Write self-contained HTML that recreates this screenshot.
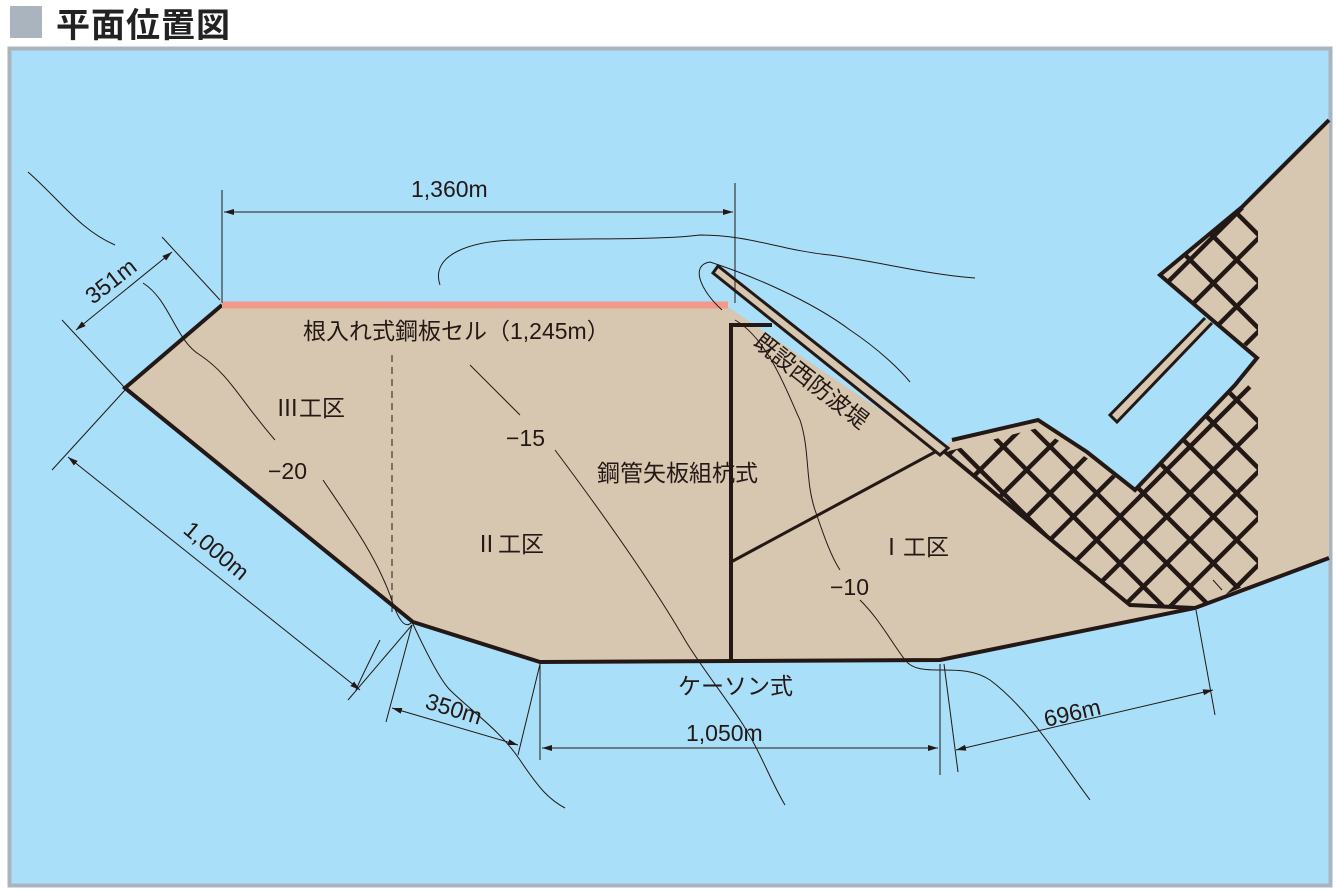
<!DOCTYPE html>
<html><head><meta charset="utf-8"><style>
html,body{margin:0;padding:0;background:#fff;}
body{width:1336px;height:890px;overflow:hidden;position:relative;font-family:"Liberation Sans","Noto Sans CJK JP",sans-serif;}
.t{position:absolute;left:10px;top:6px;width:32px;height:32px;background:#a9b4bf;}
.h{position:absolute;left:56px;top:-2px;font-size:34px;font-weight:bold;color:#222;letter-spacing:1px;font-family:"Noto Sans CJK JP",sans-serif;}
svg{position:absolute;left:0;top:0;}
text{font-family:"Liberation Sans","Noto Sans CJK JP",sans-serif;fill:#231815;}
</style></head><body>
<div class="t"></div><div class="h">平面位置図</div>
<svg width="1336" height="890" viewBox="0 0 1336 890">
<defs>
<pattern id="lat" width="33" height="33" patternUnits="userSpaceOnUse" patternTransform="rotate(45)">
<rect width="33" height="33" fill="#d8c7b0"/>
<path d="M0 0H33M0 0V33" stroke="#231815" stroke-width="9"/>
</pattern>
<marker id="a" markerWidth="10" markerHeight="6" refX="10" refY="3" orient="auto"><path d="M0 0L10 3L0 6z" fill="#231815"/></marker>
<marker id="b" markerWidth="10" markerHeight="6" refX="0" refY="3" orient="auto"><path d="M10 0L0 3L10 6z" fill="#231815"/></marker>
</defs>
<rect x="9.5" y="48.5" width="1321" height="837" fill="#a9dff8" stroke="#a9b4bf" stroke-width="4"/>
<path d="M125,388 L222,305 L725,305 L940,450 L952,440 L1038,420 L1087,452 L1135,490 L1243,380 L1257,358 L1210,318 L1160,275 L1242,207 L1329,120 L1329,558 L1195,608 L940,660 L540,662 L413,622 Z" fill="#d8c7b0"/>
<path d="M945,452 L1038,428 L1087,458 L1135,490 L1243,380 L1258,395 L1258,580 L1195,608 L1130,605 Z" fill="url(#lat)"/>
<path d="M1160,275 L1242,207 L1258,225 L1258,355 L1210,318 Z" fill="url(#lat)"/>
<path d="M945,452 L1130,605 L1195,608" fill="none" stroke="#231815" stroke-width="4"/>
<path d="M1329,120 L1242,207 L1160,275 L1210,318 L1257,358 L1235,385 L1135,490 L1087,452 L1038,420 L952,440 M1329,558 L1195,608 L940,660 L540,662 L413,622 L125,388 L222,305" fill="none" stroke="#231815" stroke-width="4"/>
<path d="M1205,318 L1110,415 L1117,422 L1212,323" fill="#d8c7b0" stroke="#231815" stroke-width="3"/>
<path d="M713,273 L718,266 L948,448 L940,455 Z" fill="#d8c7b0" stroke="#231815" stroke-width="3"/>
<line x1="222" y1="305" x2="728" y2="305" stroke="#f29a8a" stroke-width="7"/>
<path d="M731,662 V325 H772" fill="none" stroke="#231815" stroke-width="4"/>
<line x1="731" y1="562" x2="935" y2="452" stroke="#231815" stroke-width="3"/>
<line x1="392" y1="355" x2="392" y2="612" stroke="#231815" stroke-width="1" stroke-dasharray="7,5"/>
<g fill="none" stroke="#231815" stroke-width="1">
<path d="M28,172 C60,200 80,230 115,245"/>
<path d="M143,283 C170,300 175,340 200,355 C230,375 240,400 275,440"/>
<path d="M323,480 C350,520 375,555 390,595 C398,620 405,630 412,622 C425,650 440,680 450,690 C470,710 500,730 520,760 C540,790 550,800 565,808"/>
<path d="M470,365 L520,415"/>
<path d="M555,450 C600,510 650,580 685,640 C700,665 720,690 740,720 C760,750 770,780 785,805"/>
<path d="M440,285 C430,255 470,240 520,240 C600,238 660,240 700,235 C750,235 780,250 830,255 C880,262 930,275 975,278"/>
<path d="M722,310 C700,290 690,265 710,262 C750,275 810,300 850,330 C880,350 900,370 910,382"/>
<path d="M735,320 C770,340 790,400 800,420 C810,450 805,480 815,510 C822,530 830,555 840,570"/>
<path d="M860,600 C880,620 890,640 905,660 C920,680 960,660 990,680 C1030,710 1060,760 1090,800"/>
<path d="M380,640 C370,660 360,680 356,690"/>
<path d="M1213,580 L1222,590"/>
</g>
<g stroke="#231815" stroke-width="1" fill="none">
<line x1="222" y1="190" x2="222" y2="303"/>
<line x1="735" y1="183" x2="735" y2="303"/>
<line x1="224" y1="212" x2="733" y2="212" marker-start="url(#b)" marker-end="url(#a)"/>
<line x1="162" y1="237" x2="220" y2="300"/>
<line x1="62" y1="320" x2="125" y2="388"/>
<line x1="76" y1="330" x2="172" y2="252" marker-start="url(#b)" marker-end="url(#a)"/>
<line x1="125" y1="390" x2="52" y2="470"/>
<line x1="412" y1="625" x2="348" y2="700"/>
<line x1="68" y1="457" x2="360" y2="690" marker-start="url(#b)" marker-end="url(#a)"/>
<line x1="412" y1="625" x2="386" y2="722"/>
<line x1="540" y1="664" x2="518" y2="755"/>
<line x1="392" y1="708" x2="518" y2="745" marker-start="url(#b)" marker-end="url(#a)"/>
<line x1="540" y1="664" x2="540" y2="760"/>
<line x1="940" y1="664" x2="940" y2="775"/>
<line x1="542" y1="748" x2="938" y2="748" marker-start="url(#b)" marker-end="url(#a)"/>
<line x1="944" y1="664" x2="958" y2="772"/>
<line x1="1196" y1="610" x2="1215" y2="715"/>
<line x1="956" y1="750" x2="1213" y2="690" marker-start="url(#b)" marker-end="url(#a)"/>
</g>
<g font-size="23">
<text x="411" y="197">1,360m</text>
<text x="0" y="0" transform="translate(93,305) rotate(-38)">351m</text>
<text x="0" y="0" transform="translate(182,532) rotate(40)">1,000m</text>
<text x="0" y="0" transform="translate(424,708) rotate(17)">350m</text>
<text x="686" y="741">1,050m</text>
<text x="0" y="0" transform="translate(1046,727) rotate(-13)">696m</text>
<text x="303" y="339">根入れ式鋼板セル（1,245m）</text>
<text x="276" y="416">Ⅲ工区</text>
<text x="268" y="479">−20</text>
<text x="506" y="446">−15</text>
<text x="597" y="481">鋼管矢板組杭式</text>
<text x="475" y="552">Ⅱ工区</text>
<text x="880" y="555">Ⅰ工区</text>
<text x="830" y="595">−10</text>
<text x="678" y="694">ケーソン式</text>
<text x="0" y="0" transform="translate(752,345) rotate(38)">既設西防波堤</text>
</g>
</svg>
</body></html>
